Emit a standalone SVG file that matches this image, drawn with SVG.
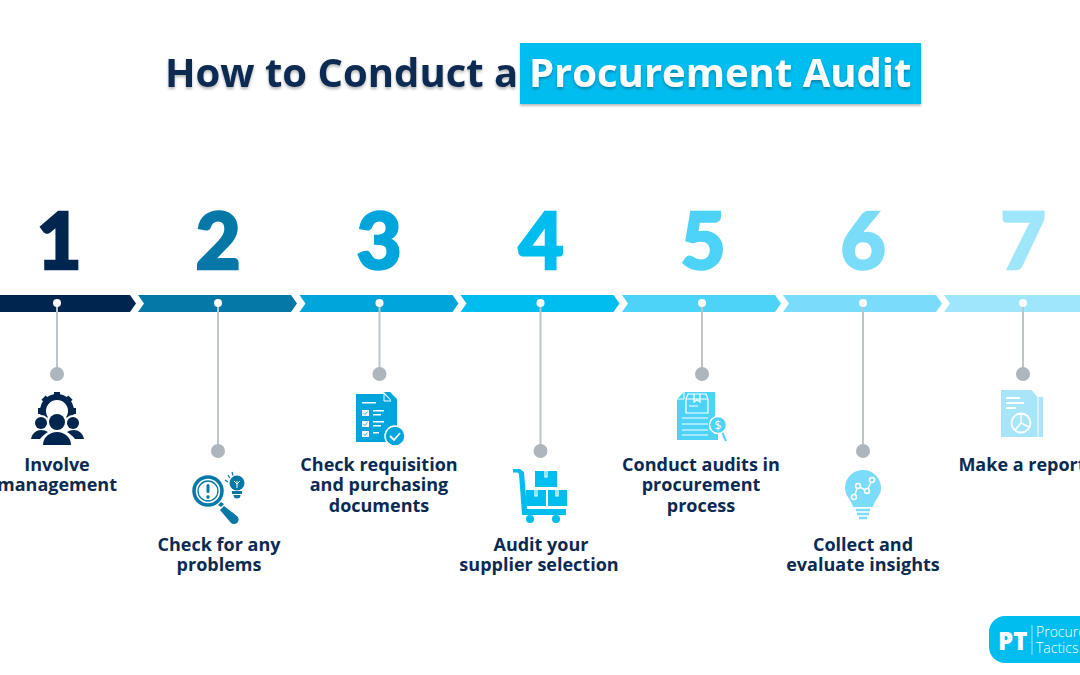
<svg xmlns="http://www.w3.org/2000/svg" width="1080" height="675" viewBox="0 0 1080 675">
<defs>
<style>
.t{font-family:"Open Sans","Liberation Sans",sans-serif;font-weight:700;font-size:18px;fill:#0b2a52;text-anchor:middle}
.n{font-family:"Lato","Liberation Sans",sans-serif;font-weight:900;font-size:78px;text-anchor:middle;stroke-width:2.400px;stroke-linejoin:miter}
.h{font-family:"Open Sans","Liberation Sans",sans-serif;font-weight:700;font-size:40px;filter:url(#sh)}
.c{stroke:#bcc5cb;stroke-width:2;fill:none}
.e{fill:#adb6bd}
.d{fill:#fff}
</style>
<filter id="sh" x="-5%" y="-20%" width="110%" height="150%"><feDropShadow dx="0" dy="2" stdDeviation="1.500" flood-color="#000" flood-opacity=".3"/></filter>
<filter id="bs" x="-5%" y="-20%" width="110%" height="150%"><feDropShadow dx="0" dy="2" stdDeviation="1.200" flood-color="#000" flood-opacity=".25"/></filter>
<path id="seg" d="M0 0H153L159 8.500L153 17H0L6 8.500Z"/>
</defs>
<rect width="1080" height="675" fill="#fff"/>
<g id="title">
<text class="h" x="165" y="87" fill="#0b2a52">How to Conduct a</text>
<rect x="520" y="43" width="401" height="61" fill="#00bdf0" filter="url(#bs)"/>
<text class="h" x="529" y="87" fill="#fff">Procurement Audit</text>
</g>
<g id="bar">
<path d="M0 295H130L136 303.500L130 312H0Z" fill="#00264f"/>
<use href="#seg" x="138" y="295" fill="#0578a8"/>
<use href="#seg" x="299.500" y="295" fill="#00a5dc"/>
<use href="#seg" x="460.500" y="295" fill="#00bdf0"/>
<use href="#seg" x="622" y="295" fill="#4dd2f8"/>
<use href="#seg" x="783" y="295" fill="#7bdcf9"/>
<use href="#seg" x="944" y="295" fill="#9fe6fb"/>
</g>
<g id="connectors">
<path class="c" d="M57 303V374"/><path class="c" d="M218 303V451"/><path class="c" d="M379.500 303V374"/><path class="c" d="M540.500 303V451"/><path class="c" d="M702 303V374"/><path class="c" d="M863 303V451"/><path class="c" d="M1023 303V374"/>
</g>
<g id="step1">
<text class="n" x="59" y="269" fill="#00264f" stroke="#00264f">1</text>
<circle class="d" cx="57" cy="303" r="4"/><circle class="e" cx="57" cy="374" r="7"/>
<g fill="#00264f">
<g id="gear">
<circle cx="57" cy="411" r="14" fill="none" stroke="#00264f" stroke-width="6"/>
<rect x="54" y="392" width="6" height="7"/>
<rect x="54" y="392" width="6" height="7" transform="rotate(45 57 411)"/>
<rect x="54" y="392" width="6" height="7" transform="rotate(-45 57 411)"/>
<rect x="54" y="392" width="6" height="7" transform="rotate(90 57 411)"/>
<rect x="54" y="392" width="6" height="7" transform="rotate(-90 57 411)"/>
</g>
<circle cx="57" cy="422" r="10.500" fill="#fff"/><circle cx="41" cy="423" r="8" fill="#fff"/><circle cx="73" cy="423" r="8" fill="#fff"/>
<circle cx="57" cy="422" r="8"/><circle cx="41" cy="423" r="6"/><circle cx="73" cy="423" r="6"/>
<path d="M31 439c1-6 6-9 10-9 3 0 5 .8 7 2-3 2-6 4-8 7Z"/><path d="M84 439c-1-6-6-9-10-9-3 0-5 .8-7 2 3 2 6 4 8 7Z"/>
<path d="M43 445a14 13 0 0 1 28 0Z"/>
</g>
<text class="t" x="57" y="470.500">Involve</text><text class="t" x="57" y="491">management</text>
</g>
<g id="step2">
<text class="n" x="218" y="269" fill="#0578a8" stroke="#0578a8">2</text>
<circle class="d" cx="218" cy="303" r="4"/><circle class="e" cx="218" cy="451" r="7"/>
<g fill="#0578a8">
<circle cx="208" cy="491" r="14" fill="none" stroke="#0578a8" stroke-width="3.500"/>
<circle cx="208" cy="491" r="10" fill="none" stroke="#0578a8" stroke-width="1.300"/>
<rect x="206.500" y="484" width="3" height="9" rx="1.500"/><circle cx="208" cy="497" r="1.800"/>
<path d="M218 505l3-3 3 2-3 3zM224 506l13 10a4.500 4.500 0 0 1-6 7l-11-13z"/>
<circle cx="237" cy="483" r="7.500"/><path d="M232 491h10v3h-10zM233.500 495h7a3.500 3.500 0 0 1-7 0z"/>
<path d="M225 480l3 2M228 475l2 3M232 472l1 3.500" stroke="#0578a8" stroke-width="1.200"/>
</g>
<path d="M237 481v7M234 481l3 3 3-3" fill="none" stroke="#fff" stroke-width="1"/>
<text class="t" x="219" y="550.500">Check for any</text><text class="t" x="219" y="571">problems</text>
</g>
<g id="step3">
<text class="n" x="379" y="269" fill="#00a5dc" stroke="#00a5dc">3</text>
<circle class="d" cx="379.500" cy="303" r="4"/><circle class="e" cx="379.500" cy="374" r="7"/>
<path d="M362 392h28l7 7v36h-6V400l-7-8z" fill="#00a5dc"/>
<path d="M356 394h28l7 7v41h-35z" fill="#00a5dc"/>
<path d="M384 394v7h7" fill="none" stroke="#fff" stroke-width="1"/>
<g fill="#fff"><path d="M362 402h14v1.500h-14z"/><rect x="362" y="410" width="7" height="6"/><rect x="362" y="421" width="7" height="6"/><rect x="362" y="431" width="7" height="6"/><path d="M373 410h11v1.500h-11zM373 414h8v1.500h-8zM373 421h11v1.500h-11zM373 425h8v1.500h-8zM373 432h6v1.500h-6z"/></g>
<path d="M363.500 413l1.500 1.500 2.500-3M363.500 424l1.500 1.500 2.500-3M363.500 434l1.500 1.500 2.500-3" fill="none" stroke="#00a5dc" stroke-width=".9"/>
<circle cx="395" cy="436" r="10" fill="#00a5dc" stroke="#fff" stroke-width="1.500"/>
<path d="M390 436l4 4 6-7" fill="none" stroke="#fff" stroke-width="1.800"/>
<text class="t" x="379" y="470.500">Check requisition</text><text class="t" x="379" y="491">and purchasing</text><text class="t" x="379" y="511.500">documents</text>
</g>
<g id="step4">
<text class="n" x="541" y="269" fill="#00bdf0" stroke="#00bdf0">4</text>
<circle class="d" cx="540.500" cy="303" r="4"/><circle class="e" cx="540.500" cy="451" r="7"/>
<g fill="#00bdf0">
<path d="M513 469h7l4 3 3 37h39v6h-44l-3-41-1.500-1.500H513z"/>
<rect x="535" y="471" width="22" height="16"/><rect x="526" y="490" width="20" height="16"/><rect x="548" y="490" width="19" height="16"/>
<circle cx="530" cy="519" r="4"/><circle cx="556" cy="519" r="4"/>
</g>
<path d="M545 471v6h2v-6M535 490v6h2v-6M556 490v6h2v-6" fill="none" stroke="#fff" stroke-width="1.200"/>
<text class="t" x="541" y="551">Audit your</text><text class="t" x="539" y="571">supplier selection</text>
</g>
<g id="step5">
<text class="n" x="703" y="269" fill="#4dd2f8" stroke="#4dd2f8">5</text>
<circle class="d" cx="702" cy="303" r="4"/><circle class="e" cx="702" cy="374" r="7"/>
<path d="M684 392h31v37h3v11h-41v-41z" fill="#4dd2f8"/>
<path d="M684 392v7h-7" fill="none" stroke="#fff" stroke-width="1"/>
<path d="M686 399l2-5h18l2 5v14h-22z" fill="none" stroke="#fff" stroke-width="1.200"/>
<path d="M686 399h22M694 394v8l3-2 3 2v-8M689 406h9" fill="none" stroke="#fff" stroke-width="1.200"/>
<path d="M682 418h26M682 424h26M682 430h26M682 435h26" stroke="#fff" stroke-width="1"/>
<path d="M722 432l4 9" stroke="#4dd2f8" stroke-width="2"/>
<circle cx="718" cy="425" r="8.500" fill="#4dd2f8" stroke="#fff" stroke-width="1.500"/>
<text x="718" y="429.500" font-family="Open Sans, sans-serif" font-size="12" font-weight="400" fill="#fff" text-anchor="middle">$</text>
<text class="t" x="701" y="470.500">Conduct audits in</text><text class="t" x="701" y="491">procurement</text><text class="t" x="701" y="512">process</text>
</g>
<g id="step6">
<text class="n" x="863" y="269" fill="#7bdcf9" stroke="#7bdcf9">6</text>
<circle class="d" cx="863" cy="303" r="4"/><circle class="e" cx="863" cy="451" r="7"/>
<path d="M863 470a18 18 0 0 1 18 18c0 8-6 11-8 19h-20c-2-8-8-11-8-19a18 18 0 0 1 18-18z" fill="#7bdcf9"/>
<path d="M856 510h14M857 514h12M859 518h8" stroke="#7bdcf9" stroke-width="2.400"/>
<path d="M854 497l4-11 9 5 5-11" fill="none" stroke="#fff" stroke-width="1.500"/>
<g fill="#7bdcf9" stroke="#fff" stroke-width="1.500"><circle cx="854" cy="497" r="2.500"/><circle cx="858" cy="486" r="2.500"/><circle cx="867" cy="491" r="2.500"/><circle cx="872" cy="480" r="2.500"/></g>
<text class="t" x="863" y="550.500">Collect and</text><text class="t" x="863" y="571">evaluate insights</text>
</g>
<g id="step7">
<text class="n" x="1023" y="269" fill="#9fe6fb" stroke="#9fe6fb">7</text>
<circle class="d" cx="1023" cy="303" r="4"/><circle class="e" cx="1023" cy="374" r="7"/>
<path d="M1001 390h31l6 7h5v40h-42z" fill="#a9e5f9"/>
<path d="M1032 390l6 7v40" fill="none" stroke="#fff" stroke-width="1"/>
<path d="M1006 398h14M1006 403h18M1006 408h10" stroke="#fff" stroke-width="1.800"/>
<circle cx="1021" cy="423" r="9.500" fill="none" stroke="#fff" stroke-width="1.800"/>
<path d="M1021 423v-9.500M1021 423l8 4M1021 423l-6 7" stroke="#fff" stroke-width="1.500"/>
<text class="t" x="1022" y="470.500">Make a report</text>
</g>
<g id="logo">
<rect x="989" y="616" width="140" height="47" rx="16" fill="#00bdf0"/>
<text x="998" y="650" font-family="Open Sans, sans-serif" font-size="24" font-weight="800" fill="#fff">PT</text>
<path d="M1032 625v30" stroke="#fff" stroke-width=".6"/>
<text x="1036" y="637" font-family="Open Sans, sans-serif" font-size="14" font-weight="300" fill="#fff">Procurement</text>
<text x="1036" y="653" font-family="Open Sans, sans-serif" font-size="14" font-weight="300" fill="#fff">Tactics</text>
</g>
</svg>
